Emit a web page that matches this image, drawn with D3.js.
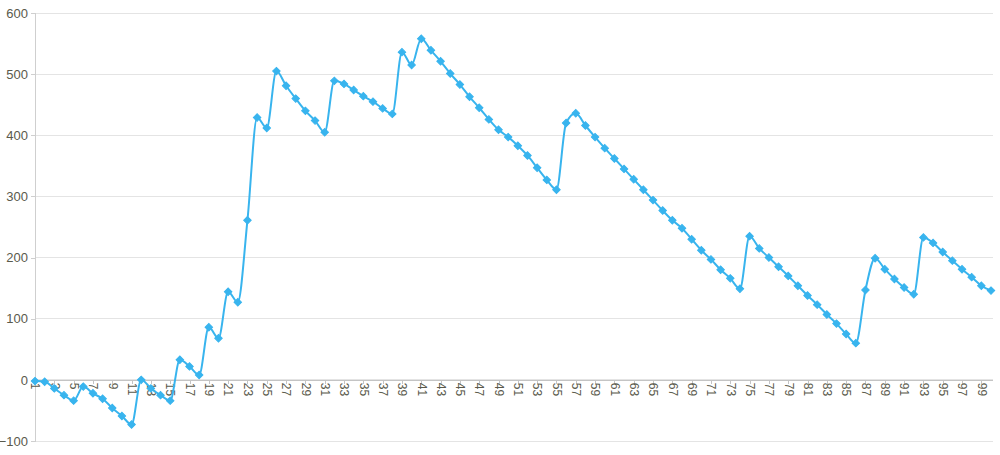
<!DOCTYPE html>
<html>
<head>
<meta charset="utf-8">
<script src="https://cdn.jsdelivr.net/npm/d3@7"></script>
<style>
  html, body { margin: 0; padding: 0; background: #fff; }
  svg { display: block; font-family: "Liberation Sans", Arial, sans-serif; }
</style>
</head>
<body>
<svg id="chart" width="1000" height="455"></svg>
<script>
const categories = d3.range(1, 101).map(String);
const values = [
  -2, -3, -14, -25, -34, -11, -22, -31, -46, -59,
  -73, 0, -14, -25, -34, 33, 22, 8, 86, 68,
  144, 127, 261, 429, 412, 505, 481, 460, 440, 424,
  405, 489, 484, 474, 464, 455, 444, 435, 536, 515,
  558, 539, 521, 501, 483, 463, 445, 426, 409, 397,
  383, 367, 347, 327, 311, 420, 436, 416, 397, 379,
  362, 345, 328, 311, 294, 277, 261, 248, 230, 212,
  197, 180, 166, 149, 235, 215, 200, 185, 170, 154,
  138, 123, 107, 92, 75, 60, 147, 199, 181, 165,
  151, 140, 233, 224, 209, 195, 181, 168, 154, 146
];
const yTicks = [-100, 0, 100, 200, 300, 400, 500, 600];
const xTickLabels = categories.filter((d, i) => i % 2 === 0);

const svg = d3.select("#chart");
const mLeft = 35, mRight = 991, plotRight = 993, mTop = 13, mBottom = 441;

const x = d3.scalePoint().domain(categories).range([mLeft, mRight]);
const y = d3.scaleLinear().domain([-100, 600]).range([mBottom, mTop]);

const labelColor = "#5a5a4c";

// gridlines
svg.append("g")
  .selectAll("line")
  .data(yTicks)
  .join("line")
  .attr("x1", mLeft).attr("x2", plotRight)
  .attr("y1", d => y(d)).attr("y2", d => y(d))
  .attr("stroke", "#e4e4e4").attr("stroke-width", 1)
  .attr("shape-rendering", "crispEdges");

// y axis
const yAxis = svg.append("g")
  .attr("transform", `translate(${mLeft},0)`)
  .call(d3.axisLeft(y).tickValues(yTicks).tickSize(4).tickPadding(3).tickFormat(d3.format("d")));
yAxis.select(".domain").attr("stroke", "#cfcfcf").attr("shape-rendering", "crispEdges");
yAxis.selectAll(".tick line").attr("stroke", "#cfcfcf").attr("shape-rendering", "crispEdges");
yAxis.selectAll(".tick text").attr("fill", labelColor).style("font-size", "13px");

// x axis at value 0
const xAxis = svg.append("g")
  .attr("transform", `translate(0,${y(0)})`)
  .call(d3.axisBottom(x).tickValues(xTickLabels).tickSize(4).tickSizeOuter(0));
xAxis.select(".domain").attr("stroke", "#c4c4c4").attr("shape-rendering", "crispEdges")
  .attr("d", `M${mLeft},0.5H${plotRight}`);
xAxis.selectAll(".tick line").attr("stroke", "#c4c4c4").attr("shape-rendering", "crispEdges");
xAxis.selectAll(".tick text")
  .attr("fill", labelColor)
  .style("font-size", "12px")
  .attr("transform", "rotate(90)")
  .attr("x", 3).attr("y", 0).attr("dy", "0.35em")
  .style("text-anchor", "start");

// line
const lineColor = "#38b4ee";
const pts = categories.map((c, i) => ({ c, v: values[i] }));
svg.append("path")
  .datum(pts)
  .attr("fill", "none")
  .attr("stroke", lineColor)
  .attr("stroke-width", 2)
  .attr("d", d3.line().x(d => x(d.c)).y(d => y(d.v)).curve(d3.curveMonotoneX));

// markers
const sym = d3.symbol().type(d3.symbolSquare).size(28);
svg.append("g")
  .selectAll("path")
  .data(pts)
  .join("path")
  .attr("d", sym)
  .attr("transform", d => `translate(${x(d.c)},${y(d.v)}) rotate(45)`)
  .attr("fill", lineColor)
  .attr("stroke", lineColor)
  .attr("stroke-width", 1);
</script>
</body>
</html>
